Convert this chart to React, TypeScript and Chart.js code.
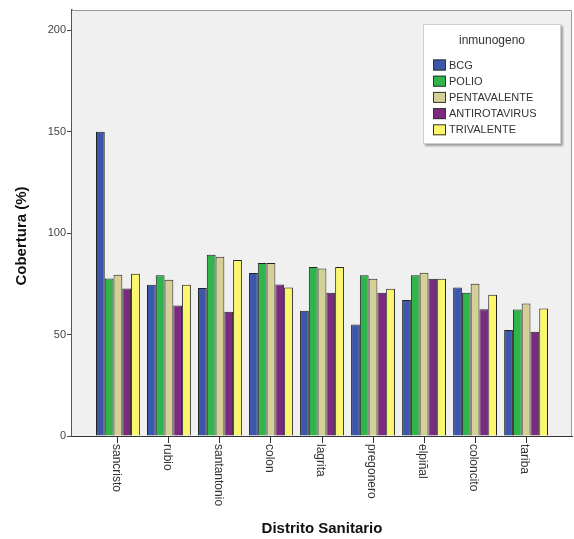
import React, { useEffect, useRef } from "react";
import { Chart, registerables } from "chart.js";

Chart.register(...registerables);

const districts = ["sancristo", "rubio", "santantonio", "colon", "lagrita", "pregonero", "elpiñal", "coloncito", "tariba"];
const seriesNames = ["BCG", "POLIO", "PENTAVALENTE", "ANTIROTAVIRUS", "TRIVALENTE"];
const bcg = [150, 74.6, 73, 80.3, 61.7, 55, 67, 73.2, 52.2];
const polio = [77.7, 79.3, 89.4, 85.3, 83.3, 79.3, 79.3, 70.6, 62.4];
const pentavalente = [79.5, 77, 88.4, 85.3, 82.6, 77.5, 80.5, 75, 65.3];
const antirotavirus = [72.7, 64.3, 61.2, 74.7, 70.6, 70.6, 77.5, 62.5, 51.4];
const trivalente = [80, 74.6, 86.8, 73.2, 83.3, 72.6, 77.5, 69.6, 62.9];
const yTicks = [0, 50, 100, 150, 200];
const colors = ["#3c57a9", "#31b44b", "#d5cf98", "#7b2a80", "#fbf66c"];
const legendTitle = "inmunogeno";
const xTitle = "Distrito Sanitario";
const yTitle = "Cobertura (%)";

const FONT = "'Liberation Sans', Arial, sans-serif";

const plotDecor = {
  id: "plotDecor",
  beforeDatasetsDraw(chart: any) {
    const { ctx, chartArea: a } = chart;
    ctx.save();
    ctx.fillStyle = "#f0f0f0";
    ctx.fillRect(a.left, a.top, a.right - a.left, a.bottom - a.top);
    ctx.strokeStyle = "#9a9a9a";
    ctx.lineWidth = 1;
    ctx.beginPath();
    ctx.moveTo(a.left, a.top + 0.5);
    ctx.lineTo(a.right - 0.5, a.top + 0.5);
    ctx.lineTo(a.right - 0.5, a.bottom);
    ctx.stroke();
    ctx.restore();
  },
  afterDraw(chart: any) {
    const { ctx } = chart;
    const xs = chart.scales.x;
    // rotated x labels (clockwise)
    ctx.save();
    ctx.fillStyle = "#333";
    ctx.font = `12px ${FONT}`;
    ctx.textAlign = "left";
    ctx.textBaseline = "middle";
    districts.forEach((d, i) => {
      const px = xs.getPixelForValue(i) - 2;
      ctx.save();
      ctx.translate(px, xs.top + 8);
      ctx.rotate(Math.PI / 2);
      ctx.fillText(d, 0, 0);
      ctx.restore();
    });
    ctx.restore();

    // y title
    ctx.save();
    ctx.fillStyle = "#111";
    ctx.font = `bold 15px ${FONT}`;
    ctx.textAlign = "center";
    ctx.textBaseline = "middle";
    ctx.translate(22, 236);
    ctx.rotate(-Math.PI / 2);
    ctx.fillText(yTitle, 0, 0);
    ctx.restore();

    // legend
    const bx = 423, by = 24, bw = 138, bh = 120;
    ctx.save();
    ctx.shadowColor = "rgba(0,0,0,0.35)";
    ctx.shadowOffsetX = 2;
    ctx.shadowOffsetY = 2;
    ctx.shadowBlur = 2;
    ctx.fillStyle = "#ffffff";
    ctx.fillRect(bx, by, bw, bh);
    ctx.restore();
    ctx.save();
    ctx.strokeStyle = "#d0d0d0";
    ctx.lineWidth = 1;
    ctx.strokeRect(bx + 0.5, by + 0.5, bw - 1, bh - 1);
    ctx.fillStyle = "#333";
    ctx.font = `12px ${FONT}`;
    ctx.textAlign = "center";
    ctx.textBaseline = "middle";
    ctx.fillText(legendTitle, bx + bw / 2, 41);
    ctx.font = `11px ${FONT}`;
    ctx.textAlign = "left";
    chart.data.datasets.forEach((ds: any, i: number) => {
      const cy = 65 + i * 16.2;
      ctx.fillStyle = ds.backgroundColor;
      ctx.fillRect(433, cy - 5.5, 13, 11);
      ctx.strokeStyle = "#333";
      ctx.strokeRect(433.5, cy - 5, 12, 10);
      ctx.fillStyle = "#333";
      ctx.fillText(ds.label, 449, cy + 0.5);
    });
    ctx.restore();
  },
};

export default function App() {
  const ref = useRef<HTMLCanvasElement>(null);
  useEffect(() => {
    if (!ref.current) return;
    const all = [bcg, polio, pentavalente, antirotavirus, trivalente];
    const chart = new Chart(ref.current, {
      type: "bar",
      data: {
        datasets: all.map((vals, si) => ({
          label: seriesNames[si],
          data: vals.map((v, i) => ({ x: i, y: v })),
          backgroundColor: colors[si],
          borderColor: "#222",
          borderWidth: 1,
          barPercentage: 1,
          categoryPercentage: 0.86,
        })),
      },
      options: {
        animation: false,
        responsive: true,
        maintainAspectRatio: false,
        layout: { padding: { top: 10, right: 2, left: 0, bottom: 0 } },
        plugins: { legend: { display: false }, tooltip: { enabled: false } },
        scales: {
          x: {
            type: "linear",
            offset: false,
            min: -0.9,
            max: 8.9,
            afterBuildTicks: (s: any) => {
              s.ticks = districts.map((_, i) => ({ value: i }));
            },
            afterFit: (s: any) => {
              s.height = 103;
            },
            grid: { offset: false, drawOnChartArea: false, drawTicks: true, tickLength: 7, color: "#333" },
            border: { color: "#333", width: 1 },
            ticks: {
              color: "transparent",
              autoSkip: false,
              minRotation: 90,
              maxRotation: 90,
              callback: (v: any) => districts[v] ?? "",
              font: { size: 12, family: FONT },
            },
            title: {
              display: true,
              text: xTitle,
              color: "#111",
              font: { size: 15, weight: "bold", family: FONT },
              padding: { top: 0, bottom: 1 },
            },
          },
          y: {
            min: 0,
            max: 210,
            afterBuildTicks: (s: any) => {
              s.ticks = yTicks.map((v) => ({ value: v }));
            },
            afterFit: (s: any) => {
              s.width = 72;
            },
            grid: { drawOnChartArea: false, drawTicks: true, tickLength: 5, color: "#444" },
            border: { color: "#555", width: 1.5 },
            ticks: { color: "#444", padding: 1, font: { size: 11, family: FONT } },
            title: { display: false, text: yTitle },
          },
        },
      },
      plugins: [plotDecor],
    } as any);
    return () => chart.destroy();
  }, []);
  return (
    <div style={{ position: "fixed", left: 0, top: 0, width: 574, height: 539, background: "#fff" }}>
      <canvas ref={ref} style={{ display: "block" }} />
    </div>
  );
}
